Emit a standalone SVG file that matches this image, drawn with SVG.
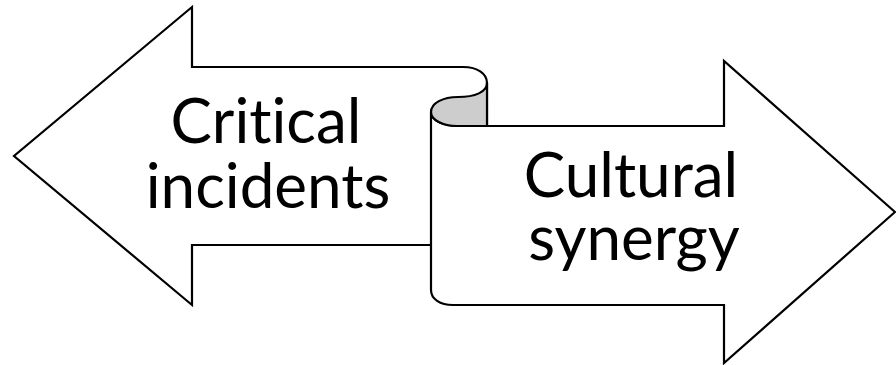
<svg xmlns="http://www.w3.org/2000/svg" width="896" height="365" viewBox="0 0 896 365">
<style>
.sh{stroke:#000;stroke-width:2.2;stroke-linejoin:miter;fill:#fff}
.t{font-family:Lato,"Open Sans",sans-serif;font-weight:400;font-size:62px;fill:#000;text-anchor:middle;font-variant-ligatures:none}
</style>
<rect width="896" height="365" fill="#fff"/>
<g id="left-arrow">
<path class="sh" d="M487,126 L487,83 C487,74 478,67 463,67 L192,67 L192,7 L14,156 L192,305 L192,245 L431,245"/>
<text class="t" x="266" y="143">Critical</text>
<text class="t" x="268" y="208">incidents</text>
</g>
<g id="right-arrow">
<path class="sh" d="M431,112 C431,120 443,126 457,126 L724,126 L724,61 L895,212 L724,363 L724,305 L453,305 C440,305 431,299 431,290 Z"/>
<path class="sh" style="fill:#cdcdcd" d="M487,83 C487,92 475,97 458,97 C443,97 431,103 431,112 C431,120 443,126 457,126 L487,126 Z"/>
<text class="t" x="631" y="197">Cultural</text>
<text class="t" x="634" y="260">synergy</text>
</g>
</svg>
